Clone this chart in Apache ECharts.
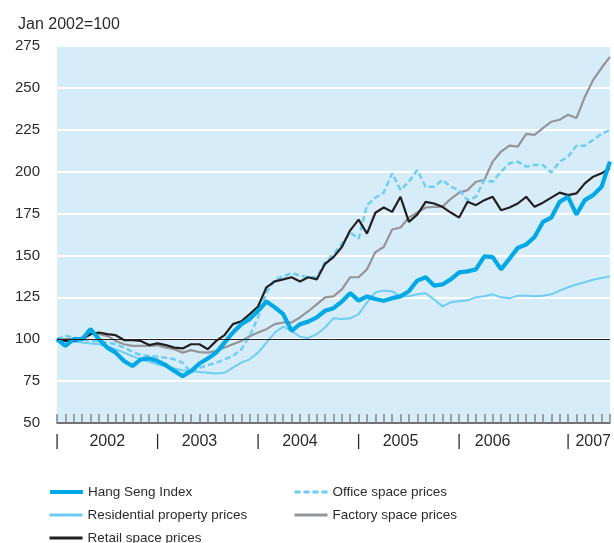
<!DOCTYPE html>
<html>
<head>
<meta charset="utf-8">
<script src="https://cdn.jsdelivr.net/npm/echarts@6/dist/echarts.min.js"></script>
<style>
  html, body { margin: 0; padding: 0; background: #fff; }
  #chart { width: 614px; height: 543px; }
</style>
</head>
<body>
<div id="chart"></div>
<script>
// monthly index, Jan 2002 = 100, Jan 2002 .. Jul 2007
const years = ['2002', '2003', '2004', '2005', '2006', '2007'];
const months = [];
years.forEach(function (y) {
  for (let m = 1; m <= 12; m++) months.push(y + '-' + m);
});
months.length = 67;

// tick label positions (month index) and their text
const xLabelIdx = [0, 6, 12, 17, 24, 29, 36, 41, 48, 52, 61, 64];
const xLabelText = ['|', '2002', '|', '2003', '|', '2004', '|', '2005', '|', '2006', '|', '2007'];

const hangSeng = [100, 96, 100, 100, 106, 100, 95, 92, 87, 84,
  88, 88.5, 87, 84.5, 81, 78, 81, 85.5, 88.5, 92,
  98, 104, 109, 112, 117, 122.5, 119, 115, 105, 109,
  110.5, 113, 117, 118.5, 122.5, 127.5, 123, 125.5, 124, 123,
  124.5, 125.6, 128.6, 135, 137, 132, 132.7, 135.7, 139.9, 140.5,
  141.7, 149.4, 149, 141.7, 148, 154.5, 156.5, 161, 170, 172.6,
  182, 185, 174.4, 183, 186, 191, 206];

const residential = [100, 99, 98.5, 98, 97.5, 97, 95.5, 94, 92, 90,
  88, 86.5, 85, 83.5, 82.5, 81.5, 81, 80.5, 80, 79.5,
  80, 83, 86, 88, 92, 98, 104, 107.5, 105, 101.5,
  100.6, 103, 107, 112.5, 112, 112.5, 115, 122, 128, 129,
  128.6, 125.6, 125.6, 126.8, 127.4, 123.8, 119.6, 122, 122.6, 123.2,
  125, 125.6, 126.8, 125, 124.4, 126, 126, 125.6, 126, 126.8,
  129, 131, 132.7, 134, 135.5, 136.5, 137.5];

const retail = [100, 99, 99, 100, 103, 104, 103, 102.4, 99.5, 99.5,
  99, 96.5, 97.5, 96.5, 95, 94.5, 97, 97, 94, 99,
  102.5, 109, 110.7, 115, 119.5, 131, 134.5, 135.7, 137, 134.5,
  137, 135.7, 145, 149, 155, 165, 171.4, 163, 175.5, 178.6,
  176, 185, 170, 174.4, 182, 181, 179, 175.6, 172.6, 182,
  180, 183, 185, 177, 178.6, 181, 185, 179, 181.5, 184.5,
  187.5, 186, 187, 193, 197, 199, 202];

const office = [100, 102, 101, 100, 99, 98.5, 98, 97, 95, 92.5,
  90.5, 90, 89.5, 89, 88, 86, 80, 83, 84.5, 86,
  88, 90, 94, 102, 113, 128, 135.7, 137.5, 139.5, 138,
  137, 137, 146, 150.6, 157, 163.7, 160, 180, 184.5, 187.5,
  199, 189, 194, 201, 191, 191, 195, 191, 189, 183,
  185, 195, 194, 200, 205, 206, 203, 204, 204, 199.5,
  206, 209, 215.5, 215.5, 219, 222.6, 225];

const factory = [100, 100, 100, 101, 103.5, 103, 102, 99, 97, 96,
  96, 96, 96.4, 95, 94, 92, 93.5, 92.3, 92, 93,
  95, 97, 99, 101.8, 104, 106, 109, 110, 110, 113,
  116.7, 120.8, 125, 125.6, 129.8, 137, 137, 141.7, 152, 155,
  165.5, 166.7, 172.6, 175.6, 178.6, 179, 179, 183.8, 187.5, 189,
  194, 195, 206, 212, 215.5, 215, 222.6, 222, 226, 229.8,
  231, 234, 232, 244.6, 254.8, 262, 268.5];

const font = 'Liberation Sans, Arial, sans-serif';
const textColor = '#2b2b2b';

const myChart = echarts.init(document.getElementById('chart'));

function lineSeries(name, data, color, width, type) {
  return {
    name: name,
    type: 'line',
    data: data,
    symbol: 'none',
    lineStyle: { color: color, width: width, type: type || 'solid' },
    itemStyle: { color: color }
  };
}

const seriesList = [
  lineSeries('Residential property prices', residential, '#6fcdf4', 2),
  lineSeries('Factory space prices', factory, '#939598', 2.2),
  lineSeries('Office space prices', office, '#6fcdf4', 2.5, [6, 3]),
  lineSeries('Retail space prices', retail, '#231f20', 2.2),
  lineSeries('Hang Seng Index', hangSeng, '#00a8e6', 4.2)
];
seriesList[0].markLine = {
  silent: true,
  symbol: 'none',
  label: { show: false },
  lineStyle: { color: '#231f20', width: 1, type: 'solid' },
  data: [{ yAxis: 100 }]
};

// one legend box per entry, placed like the reference
function legendItem(name, left, top, lineWidth) {
  return {
    data: [name],
    left: left,
    top: top,
    padding: 0,
    itemWidth: 33,
    itemHeight: 10,
    itemTextGap: 6,
    itemStyle: { opacity: 0 },
    lineStyle: { width: lineWidth },
    textStyle: { fontFamily: font, fontSize: 13.5, color: textColor }
  };
}

myChart.setOption({
  animation: false,
  title: {
    text: 'Jan 2002=100',
    left: 13,
    top: 12,
    textStyle: { fontFamily: font, fontSize: 16, fontWeight: 'normal', color: textColor }
  },
  legend: [
    legendItem('Hang Seng Index', 48, 485, 4),
    legendItem('Residential property prices', 48, 508, 3),
    legendItem('Retail space prices', 48, 531, 3),
    legendItem('Office space prices', 293, 485, 3),
    legendItem('Factory space prices', 293, 508, 3)
  ],
  grid: {
    left: 57, right: 0, top: 46, bottom: 120,
    show: true, backgroundColor: '#d6edf9', borderWidth: 0
  },
  xAxis: {
    type: 'category',
    data: months,
    boundaryGap: false,
    axisLine: { lineStyle: { color: '#444', width: 1.5 } },
    axisTick: { interval: 0, inside: true, length: 9, lineStyle: { color: '#858585', width: 1.5 } },
    axisLabel: {
      interval: 0,
      margin: 11,
      fontFamily: font,
      fontSize: 16,
      color: textColor,
      formatter: function (val, idx) {
        const k = xLabelIdx.indexOf(idx);
        return k >= 0 ? xLabelText[k] : '';
      }
    },
    splitLine: { show: false }
  },
  yAxis: {
    type: 'value',
    min: 50,
    max: 275,
    interval: 25,
    axisLine: { show: false },
    axisTick: { show: false },
    axisLabel: { margin: 17, fontFamily: font, fontSize: 15, color: textColor },
    splitLine: { lineStyle: { color: '#ffffff', width: 2 } }
  },
  series: seriesList
});
</script>
</body>
</html>
